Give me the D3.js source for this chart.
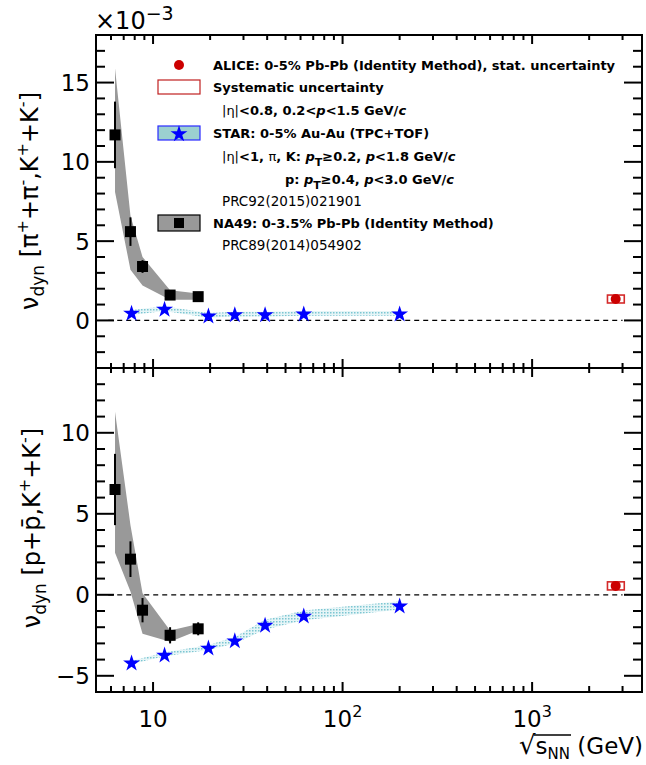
<!DOCTYPE html>
<html><head><meta charset="utf-8">
<script src="https://cdn.jsdelivr.net/npm/d3@7"></script>
<style>body{margin:0;background:#fff}svg{display:block}text{font-family:"DejaVu Sans",sans-serif}</style>
</head><body><svg id="c" width="646" height="765"></svg>
<script>
// ---------- data ----------
const energiesNA49 = [6.3, 7.6, 8.8, 12.3, 17.3];
const na49Top      = [11.7, 5.6, 3.4, 1.6, 1.5];
const na49TopStat  = [2.1, 0.9, 0.4, 0.25, 0.2];
const na49TopSysHi = [15.9, 6.6, 4.0, 1.9, 1.7];
const na49TopSysLo = [8.1, 3.2, 2.2, 1.3, 1.3];
const na49Bot      = [6.5, 2.2, -0.95, -2.5, -2.1];
const na49BotStat  = [2.2, 1.1, 0.75, 0.5, 0.4];
const na49BotSysHi = [11.3, 4.3, 0.1, -2.2, -1.8];
const na49BotSysLo = [2.6, 0.2, -2.4, -2.9, -2.2];
const energiesSTAR = [7.7, 11.5, 19.6, 27, 39, 62.4, 200];
const starTop      = [0.5, 0.75, 0.32, 0.4, 0.4, 0.45, 0.45];
const starTopSys   = [0.15, 0.15, 0.15, 0.15, 0.15, 0.15, 0.15];
const starBot      = [-4.17, -3.68, -3.25, -2.8, -1.84, -1.27, -0.65];
const starBotSys   = [0.1, 0.12, 0.15, 0.2, 0.3, 0.3, 0.25];
const aliceEnergy  = [2760];
const aliceTop     = [1.35];
const aliceBot     = [0.55];
const aliceSys     = [0.25];
const xMajor = [10, 100, 1000];
const xMinor = [5,6,7,8,9,20,30,40,50,60,70,80,90,200,300,400,500,600,700,800,900,2000,3000];
const xMajorExp = ["", "2", "3"];
const topDomain = [-3, 18];
const botDomain = [-6, 14];

// ---------- layout ----------
const L = 96, R = 642, T1 = 35, M = 368, B2 = 692;
const svg = d3.select("#c");
const x = d3.scaleLog().domain([5, 3800]).range([L, R]);
const yT = d3.scaleLinear().domain(topDomain).range([M, T1]);
const yB = d3.scaleLinear().domain(botDomain).range([B2, M]);
const STAR_SIZE = 88;

const defs = svg.append("defs");
const pat = defs.append("pattern").attr("id","dots").attr("width",3).attr("height",3).attr("patternUnits","userSpaceOnUse");
pat.append("rect").attr("width",3).attr("height",3).attr("fill","#e6f5f7");
pat.append("rect").attr("width",1.5).attr("height",1.5).attr("fill","#7cc6d2");
defs.append("clipPath").attr("id","clipT").append("rect").attr("x",L).attr("y",T1).attr("width",R-L).attr("height",M-T1);
defs.append("clipPath").attr("id","clipB").append("rect").attr("x",L).attr("y",M).attr("width",R-L).attr("height",B2-M);

function panel(y, clip, na, naStat, naHi, naLo, st, stSys, al) {
  const g = svg.append("g").attr("clip-path", `url(#${clip})`);
  g.append("line").attr("x1", x(5.8)).attr("x2", x(3000)).attr("y1", y(0)).attr("y2", y(0))
    .attr("stroke","#000").attr("stroke-width",1.2).attr("stroke-dasharray","5,4");
  const band = energiesNA49.map((e,i)=>[x(e), y(naHi[i])]).concat(energiesNA49.map((e,i)=>[x(e), y(naLo[i])]).reverse());
  g.append("path").attr("d", d3.line()(band)+"Z").attr("fill","#999999");
  const sb = d3.area().x((d,i)=>x(energiesSTAR[i])).y0((d,i)=>y(st[i]-stSys[i])).y1((d,i)=>y(st[i]+stSys[i]));
  g.append("path").attr("d", sb(st)).attr("fill","url(#dots)");
  energiesNA49.forEach((e,i)=>{
    g.append("line").attr("x1",x(e)).attr("x2",x(e)).attr("y1",y(na[i]-naStat[i])).attr("y2",y(na[i]+naStat[i]))
      .attr("stroke","#000").attr("stroke-width",2);
  });
  g.selectAll(null).data(na).join("path")
    .attr("d", d3.symbol(d3.symbolSquare, 121)())
    .attr("transform",(d,i)=>`translate(${x(energiesNA49[i])},${y(d)})`).attr("fill","#000");
  g.selectAll(null).data(st).join("path")
    .attr("d", d3.symbol(d3.symbolStar, STAR_SIZE)())
    .attr("transform",(d,i)=>`translate(${x(energiesSTAR[i])},${y(d)+1})`).attr("fill","#0000ff");
  al.forEach((v,i)=>{
    const e = aliceEnergy[i];
    g.append("rect").attr("x", x(e*0.905)).attr("y", y(v+aliceSys[i])).attr("width", x(e*1.11)-x(e*0.905))
      .attr("height", y(v-aliceSys[i])-y(v+aliceSys[i])).attr("fill","none").attr("stroke","#d42a2a").attr("stroke-width",1.6);
    g.append("circle").attr("cx", x(e)).attr("cy", y(v)).attr("r",5).attr("fill","#cc0000");
  });
}
panel(yT, "clipT", na49Top, na49TopStat, na49TopSysHi, na49TopSysLo, starTop, starTopSys, aliceTop);
panel(yB, "clipB", na49Bot, na49BotStat, na49BotSysHi, na49BotSysLo, starBot, starBotSys, aliceBot);

// ---------- frames & ticks ----------
const ax = svg.append("g").attr("stroke","#000");
function hTicks(yy, dir, majLen, minLen) {
  xMajor.forEach(v=>ax.append("line").attr("x1",x(v)).attr("x2",x(v)).attr("y1",yy).attr("y2",yy+dir*majLen).attr("stroke-width",2));
  xMinor.forEach(v=>ax.append("line").attr("x1",x(v)).attr("x2",x(v)).attr("y1",yy).attr("y2",yy+dir*minLen).attr("stroke-width",2));
}
function vTicks(y, dom) {
  d3.range(Math.ceil(dom[0]), Math.floor(dom[1])+1).forEach(v=>{
    const len = v % 5 === 0 ? 18 : 9;
    if (y(v) <= T1+1 || y(v) >= B2-1) return;
    ax.append("line").attr("x1",L).attr("x2",L+len).attr("y1",y(v)).attr("y2",y(v)).attr("stroke-width",2);
    ax.append("line").attr("x1",R).attr("x2",R-len).attr("y1",y(v)).attr("y2",y(v)).attr("stroke-width",2);
  });
}
vTicks(yT, topDomain);
vTicks(yB, botDomain);
hTicks(T1, 1, 9, 5);
hTicks(M, -1, 9, 5);
hTicks(M, 1, 9, 5);
hTicks(B2, -1, 10, 6);
ax.append("rect").attr("x",L).attr("y",T1).attr("width",R-L).attr("height",B2-T1).attr("fill","none").attr("stroke-width",2);
ax.append("line").attr("x1",L).attr("x2",R).attr("y1",M).attr("y2",M).attr("stroke-width",2);

// ---------- tick labels ----------
const FS = 23;
function yLabels(y, vals) {
  vals.forEach(v=>{
    svg.append("text").attr("x",90).attr("y",y(v)+8.5).attr("text-anchor","end").attr("font-size",FS)
      .text(v < 0 ? "\u2212" + Math.abs(v) : String(v));
  });
}
yLabels(yT, [0,5,10,15]);
yLabels(yB, [-5,0,5,10]);
xMajor.forEach((v,i)=>{
  const t = svg.append("text").attr("x",x(v)).attr("y",727).attr("text-anchor","middle").attr("font-size",FS);
  t.append("tspan").text("10");
  if (xMajorExp[i]) t.append("tspan").attr("dy",-10).attr("font-size",16).text(xMajorExp[i]);
});

// x10^-3
const mult = svg.append("text").attr("x",95).attr("y",29).attr("font-size",24);
mult.append("tspan").text("\u00d710");
mult.append("tspan").attr("dy",-9).attr("font-size",19).text("\u22123");

// x axis title (single text element, overline drawn as a line)
const xt = svg.append("g");
const xtt = xt.append("text").attr("x",0).attr("y",0).attr("font-size",FS);
xtt.append("tspan").attr("font-size",26).text("\u221a");
const sSpan = xtt.append("tspan").text("s");
xtt.append("tspan").attr("dy",5).attr("font-size",15).text("NN");
xtt.append("tspan").attr("dy",-5).text(" (GeV)");
const n = xtt.node();
const rootW = n.getSubStringLength(0,1);
const sW = n.getSubStringLength(1,3);
xt.append("line").attr("x1",rootW-2).attr("x2",rootW+sW+1).attr("y1",-19).attr("y2",-19).attr("stroke","#000").attr("stroke-width",1.4);
const totalW = n.getComputedTextLength();
xt.attr("transform",`translate(${R+1-totalW},754)`);

// y axis titles
function yTitle(cx, cy, parts) {
  const t = svg.append("text").attr("transform",`translate(${cx},${cy}) rotate(-90)`).attr("text-anchor","middle").attr("font-size",24);
  parts.forEach(p=>{
    const s = t.append("tspan").text(p[0]);
    if (p[1]) s.attr("dy",p[1]);
    if (p[2]) s.attr("font-size",p[2]);
  });
}
yTitle(38, 201, [["\u03bd"],["dyn",6,17],[" [\u03c0",-6],["+",-10,16],["+\u03c0",10],["-",-10,16],[",K",10],["+",-10,16],["+K",10],["-",-10,16],["]",10]]);
yTitle(40, 528, [["\u03bd"],["dyn",6,17],[" [p+p\u0304,K",-6],["+",-10,16],["+K",10],["-",-10,16],["]",10]]);

// ---------- legend ----------
const lg = svg.append("g");
const LFS = 13;
lg.append("circle").attr("cx",179).attr("cy",65).attr("r",5).attr("fill","#cc0000");
lg.append("rect").attr("x",158).attr("y",80).attr("width",42).attr("height",14).attr("fill","none").attr("stroke","#c02020").attr("stroke-width",1.2);
lg.append("rect").attr("x",158).attr("y",126).attr("width",42).attr("height",14).attr("fill","#9bd0d0").attr("stroke","#2a2aff").attr("stroke-width",1.2);
lg.append("path").attr("d", d3.symbol(d3.symbolStar, STAR_SIZE)()).attr("transform","translate(179,134)").attr("fill","#0000ff");
lg.append("rect").attr("x",158).attr("y",215).attr("width",42).attr("height",16).attr("fill","#999999").attr("stroke","#000").attr("stroke-width",1.2);
lg.append("rect").attr("x",174).attr("y",218).attr("width",10).attr("height",10).attr("fill","#000");

function ltext(xx, yy, parts, size, weight) {
  const t = lg.append("text").attr("x",xx).attr("y",yy).attr("font-size",size||LFS).attr("font-weight",weight||"bold");
  parts.forEach(p=>{
    const s = t.append("tspan").text(p.t);
    if (p.i) s.attr("font-style","italic");
    if (p.n) s.attr("font-weight","normal");
    if (p.dy) s.attr("dy",p.dy);
    if (p.fs) s.attr("font-size",p.fs);
  });
  return t;
}
ltext(213, 70, [{t:"ALICE: 0-5% Pb-Pb (Identity Method), stat. uncertainty"}]);
ltext(213, 92, [{t:"Systematic uncertainty"}]);
ltext(222, 115, [{t:"|\u03b7|",n:1},{t:"<0.8, 0.2<"},{t:"p",i:1},{t:"<1.5 GeV/"},{t:"c",i:1}]);
ltext(213, 138, [{t:"STAR:  0-5% Au-Au (TPC+TOF)"}]);
ltext(222, 161, [{t:"|\u03b7|",n:1},{t:"<1, "},{t:"\u03c0",n:1},{t:", K:  "},{t:"p",i:1},{t:"T",dy:5,fs:11},{t:"\u22650.2,  ",dy:-5},{t:"p",i:1},{t:"<1.8 GeV/"},{t:"c",i:1}]);
ltext(285, 184, [{t:"p:  "},{t:"p",i:1},{t:"T",dy:5,fs:11},{t:"\u22650.4,  ",dy:-5},{t:"p",i:1},{t:"<3.0 GeV/"},{t:"c",i:1}]);
ltext(222, 206, [{t:"PRC92(2015)021901"}], 13.5, "normal");
ltext(213, 228, [{t:"NA49:  0-3.5% Pb-Pb (Identity Method)"}]);
ltext(222, 250, [{t:"PRC89(2014)054902"}], 13.5, "normal");
</script></body></html>
